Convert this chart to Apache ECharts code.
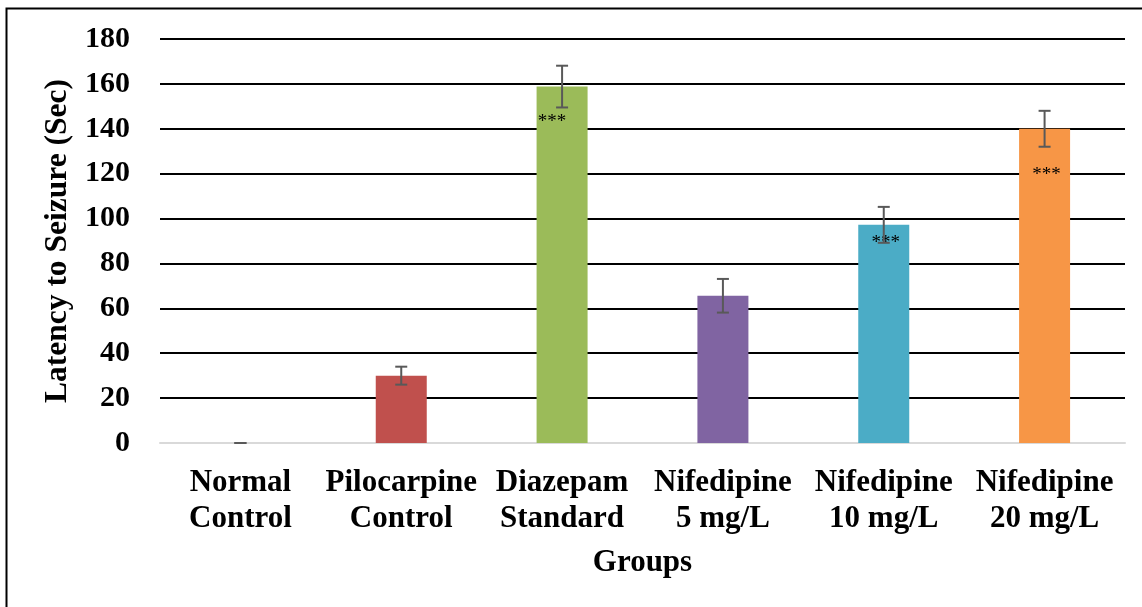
<!DOCTYPE html>
<html>
<head>
<meta charset="utf-8">
<style>
  html, body { margin: 0; padding: 0; background: #ffffff; }
  #chart { width: 1142px; height: 607px; }
</style>
<script src="https://cdn.jsdelivr.net/npm/echarts@6/dist/echarts.min.js"></script>
</head>
<body>
<div id="chart"></div>
<script>
// Groups and measured latency (mean ± error)
const groups = ['Normal\nControl', 'Pilocarpine\nControl', 'Diazepam\nStandard', 'Nifedipine\n5 mg/L', 'Nifedipine\n10 mg/L', 'Nifedipine\n20 mg/L'];
const latency = [0, 30, 158.8, 65.6, 97.2, 140];
const errors = [0, 4, 9.3, 7.5, 8, 8];
const significance = ['', '', '***', '', '***', '***'];
const barColors = ['#4F81BD', '#C0504D', '#9BBB59', '#8064A2', '#4BACC6', '#F79646'];
const yTicks = [0, 20, 40, 60, 80, 100, 120, 140, 160, 180];

const FONT = '"Liberation Serif", "Times New Roman", serif';

// where the significance stars sit inside each bar (pixel offset from bar top)
const starOffsets = [[0, 0], [0, 0], [-10, 26], [0, 0], [2, 9], [2, 37]];

const chart = echarts.init(document.getElementById('chart'), null, { renderer: 'canvas' });

const barData = latency.map((v, i) => ({
  value: v,
  itemStyle: { color: barColors[i] },
  label: {
    show: significance[i] !== '',
    formatter: significance[i],
    position: 'insideTop',
    distance: 0,
    offset: starOffsets[i],
    color: '#000',
    fontFamily: FONT,
    fontSize: 19,
    fontWeight: 'normal'
  }
}));

const errData = latency.map((v, i) => [i, v - errors[i], v + errors[i]]);

chart.setOption({
  backgroundColor: '#ffffff',
  animation: false,
  graphic: [{
    type: 'rect',
    left: 4, top: 6,
    shape: { width: 1300, height: 800 },
    style: { fill: 'none', stroke: '#000', lineWidth: 2 },
    silent: true,
    z: 100
  }],
  grid: { left: 160, right: 17, top: 39, bottom: 164, containLabel: false },
  xAxis: {
    type: 'category',
    data: groups,
    name: 'Groups',
    nameLocation: 'middle',
    nameGap: 104,
    nameTextStyle: { fontFamily: FONT, fontSize: 31, fontWeight: 'bold', color: '#000' },
    axisLine: { show: true, lineStyle: { color: '#d9d9d9', width: 2 } },
    axisTick: { show: false },
    axisLabel: {
      interval: 0,
      margin: 22,
      fontFamily: FONT, fontSize: 31, fontWeight: 'bold', color: '#000',
      lineHeight: 36
    }
  },
  yAxis: {
    type: 'value',
    min: 0, max: 180, interval: 20,
    name: 'Latency to Seizure (Sec)',
    nameLocation: 'middle',
    nameGap: 84,
    nameRotate: 90,
    nameTextStyle: { fontFamily: FONT, fontSize: 31.5, fontWeight: 'bold', color: '#000' },
    axisLine: { show: false },
    axisTick: { show: false },
    axisLabel: {
      margin: 30,
      fontFamily: FONT, fontSize: 30, fontWeight: 'bold', color: '#000',
      formatter: v => (yTicks.includes(v) ? String(v) : '')
    },
    splitLine: { show: true, lineStyle: { color: '#000', width: 2 } }
  },
  series: [
    {
      type: 'bar',
      data: barData,
      barWidth: 51,
      z: 2
    },
    {
      type: 'custom',
      data: errData,
      z: 5,
      renderItem: (params, api) => {
        const x = api.value(0);
        const lo = api.coord([x, api.value(1)]);
        const hi = api.coord([x, api.value(2)]);
        const cap = 6;
        const style = { stroke: '#595959', lineWidth: 2 };
        return {
          type: 'group',
          children: [
            { type: 'line', shape: { x1: lo[0], y1: lo[1], x2: hi[0], y2: hi[1] }, style },
            { type: 'line', shape: { x1: hi[0] - cap, y1: hi[1], x2: hi[0] + cap, y2: hi[1] }, style },
            { type: 'line', shape: { x1: lo[0] - cap, y1: lo[1], x2: lo[0] + cap, y2: lo[1] }, style }
          ]
        };
      }
    }
  ]
});
</script>
</body>
</html>
